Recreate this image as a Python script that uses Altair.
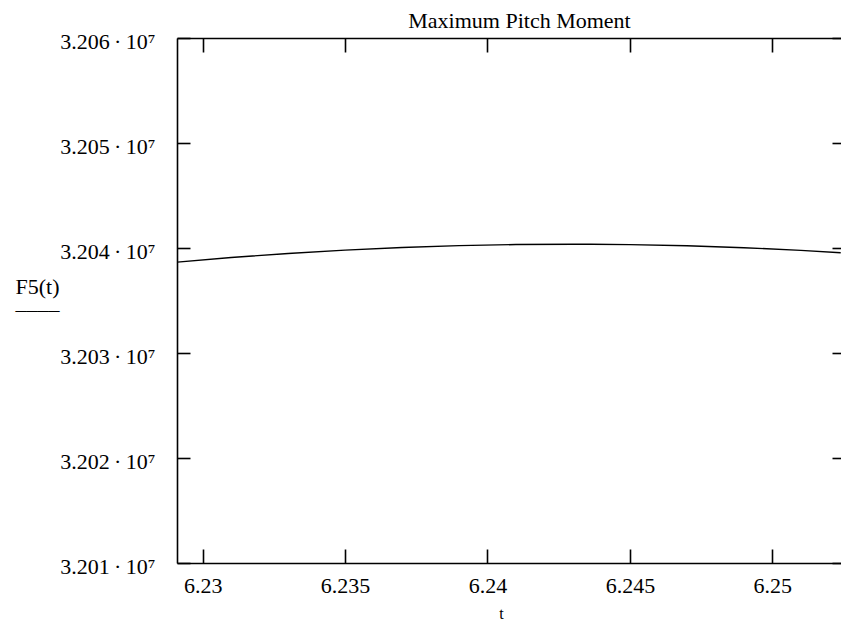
import altair as alt
import pandas as pd

# values
t_vals = [6.2291, 6.231, 6.233, 6.235, 6.237, 6.239, 6.241, 6.243, 6.245, 6.247, 6.249, 6.251, 6.2524]
f5_vals = [32038650, 32039090, 32039480, 32039800, 32040050, 32040230, 32040330,
           32040360, 32040320, 32040210, 32040030, 32039770, 32039550]
x_ticks = [6.23, 6.235, 6.24, 6.245, 6.25]
y_ticks = [32010000, 32020000, 32030000, 32040000, 32050000, 32060000]
x_domain = [6.2291, 6.25241]
y_domain = [32010000, 32060000]

df = pd.DataFrame({"t": t_vals, "F5": f5_vals})

W, H = 664, 525
FONT = "Liberation Serif"

xs = alt.Scale(domain=x_domain, nice=False, zero=False)
ys = alt.Scale(domain=y_domain, nice=False, zero=False)

common = dict(grid=False, domainColor="black", tickColor="black", labelColor="black",
              titleColor="black", labelFlush=False, labelOverlap=False)

# main layer: visible curve, labels, bottom & left borders
l1 = alt.Chart(df).mark_line(color="black", strokeWidth=1.4, interpolate="monotone").encode(
    x=alt.X("t:Q", scale=xs, axis=alt.Axis(
        orient="bottom", values=x_ticks, format=".3~f", ticks=False, domain=True,
        domainWidth=1.6, labelFont=FONT, labelFontSize=22, labelPadding=12,
        title="t", titleFont=FONT, titleFontSize=16, titleFontWeight="normal",
        titleX=324, titleY=55, titleAlign="center", titleBaseline="alphabetic", **common)),
    y=alt.Y("F5:Q", scale=ys, axis=alt.Axis(
        orient="left", values=y_ticks,
        labelExpr="format(datum.value / 10000000, '.3f') + '\u2009\u00b7\u200910\u2077'",
        ticks=False, domain=True, domainWidth=1.6, labelFont=FONT, labelFontSize=22,
        labelPadding=22, labelOffset=3, labelBaseline="middle",
        title=["F5(t)", "____"], titleAngle=0, titleX=-162, titleY=255, titleAlign="left",
        titleBaseline="alphabetic", titleFont=FONT, titleFontSize=22,
        titleFontWeight="normal", titleLineHeight=15, **common)),
)

# inward ticks on bottom and left edges
l2 = alt.Chart(df).mark_line(opacity=0).encode(
    x=alt.X("t:Q", scale=xs, axis=alt.Axis(
        orient="top", offset=-H, values=x_ticks, labels=False, domain=False,
        tickSize=14, tickWidth=1.6, title="", **common)),
    y=alt.Y("F5:Q", scale=ys, axis=alt.Axis(
        orient="right", offset=-W, values=y_ticks, labels=False, domain=False,
        tickSize=13, tickWidth=1.6, title="", **common)),
)

# inward ticks on top and right edges, top border, and the chart title
l3 = alt.Chart(df).mark_line(opacity=0).encode(
    x=alt.X("t:Q", scale=xs, axis=alt.Axis(
        orient="bottom", offset=-H, values=x_ticks, labels=False, domain=True,
        domainWidth=1.6, tickSize=14, tickWidth=1.6,
        title="Maximum Pitch Moment", titleFont=FONT, titleFontSize=22,
        titleFontWeight="normal", titleX=342, titleY=-11, titleAlign="center",
        titleBaseline="alphabetic", **common)),
    y=alt.Y("F5:Q", scale=ys, axis=alt.Axis(
        orient="left", offset=-W, values=y_ticks, labels=False, domain=False,
        tickSize=9, tickWidth=1.6, title="", **common)),
)

chart = alt.layer(l1, l2, l3).resolve_scale(x="independent", y="independent").properties(
    width=W, height=H,
    autosize=alt.AutoSizeParams(type="none"),
    padding={"left": 169, "top": 30, "right": 0, "bottom": 57},
).configure_view(stroke="transparent")

chart.save("out.html", embed_options={"renderer": "svg", "actions": False})
